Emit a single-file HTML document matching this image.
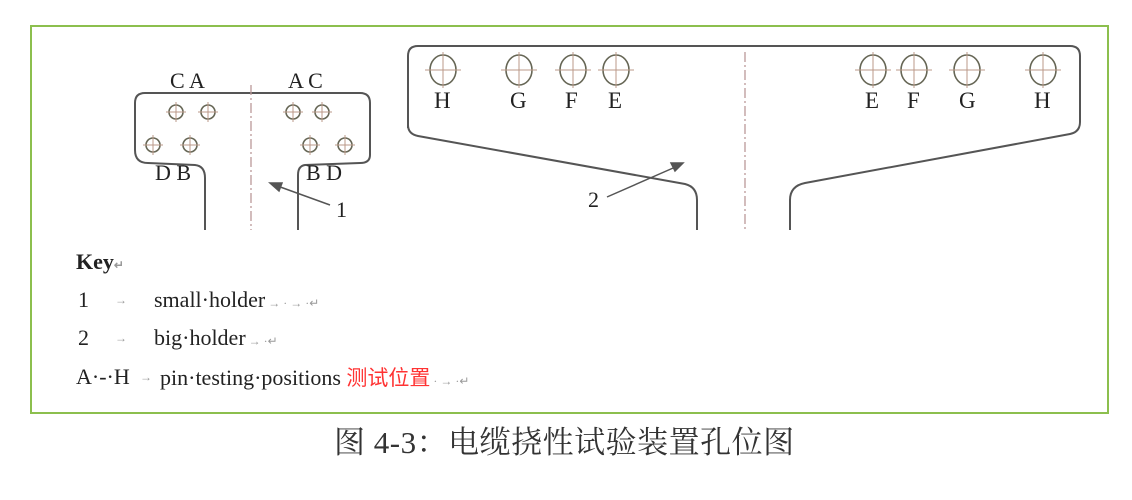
<!DOCTYPE html>
<html><head><meta charset="utf-8"><style>
body{margin:0;width:1132px;height:500px;background:#fff;overflow:hidden;position:relative;font-family:"Liberation Serif","Noto Serif CJK SC",serif}
.frame{position:absolute;left:30px;top:25px;width:1079px;height:389px;border:2px solid #8cbf4e;box-sizing:border-box}
.t{position:absolute;font-size:22px;color:#222;white-space:nowrap;line-height:26px}
.m{color:#999;font-size:12px}
</style></head><body>
<div class="frame"></div>
<svg width="1132" height="500" style="position:absolute;left:0;top:0">
<g fill="none" stroke="#555" stroke-width="2">
<path d="M135,150 L135,103 Q135,93 145,93 L360,93 Q370,93 370,103 L370,155 Q370,163 360,163 L305,165 Q298,166 298,175 L298,230"/>
<path d="M135,150 Q135,163 148,163 L195,165 Q205,166 205,178 L205,230"/>
<path d="M408,128 L408,56 Q408,46 418,46 L1070,46 Q1080,46 1080,56 L1080,122 Q1080,132 1070,134 L805,183 Q790,186 790,200 L790,230"/>
<path d="M408,125 Q408,134 418,136 L685,184 Q697,187 697,200 L697,230"/>
</g>
<g stroke="#b99" stroke-width="1.3" stroke-dasharray="10,3,2,3">
<line x1="251" y1="85" x2="251" y2="230"/><line x1="745" y1="52" x2="745" y2="230"/>
</g>
<g fill="none" stroke="#665" stroke-width="1.6">
<circle cx="176" cy="112" r="7"/><circle cx="208" cy="112" r="7"/><circle cx="293" cy="112" r="7"/><circle cx="322" cy="112" r="7"/>
<circle cx="153" cy="145" r="7"/><circle cx="190" cy="145" r="7"/><circle cx="310" cy="145" r="7"/><circle cx="345" cy="145" r="7"/>
<ellipse cx="443" cy="70" rx="13" ry="15"/><ellipse cx="519" cy="70" rx="13" ry="15"/><ellipse cx="573" cy="70" rx="13" ry="15"/><ellipse cx="616" cy="70" rx="13" ry="15"/>
<ellipse cx="873" cy="70" rx="13" ry="15"/><ellipse cx="914" cy="70" rx="13" ry="15"/><ellipse cx="967" cy="70" rx="13" ry="15"/><ellipse cx="1043" cy="70" rx="13" ry="15"/>
</g>
<g stroke="#b98" stroke-width="1">
<path d="M166,112h20M176,102v20M198,112h20M208,102v20M283,112h20M293,102v20M312,112h20M322,102v20"/>
<path d="M143,145h20M153,135v20M180,145h20M190,135v20M300,145h20M310,135v20M335,145h20M345,135v20"/>
<path d="M425,70h36M443,52v36M501,70h36M519,52v36M555,70h36M573,52v36M598,70h36M616,52v36"/>
<path d="M855,70h36M873,52v36M896,70h36M914,52v36M949,70h36M967,52v36M1025,70h36M1043,52v36"/>
</g>
<g stroke="#555" stroke-width="1.5" fill="#555">
<line x1="330" y1="205" x2="272" y2="184"/><path d="M270,183 l12,0 l-3,8z"/>
<line x1="607" y1="197" x2="680" y2="165"/><path d="M683,163 l-12,0 l4,8z"/>
</g>
<g font-family="Liberation Serif,serif" font-size="22" fill="#222">
<text x="170" y="88">C A</text><text x="288" y="88">A C</text>
<text x="155" y="180">D B</text><text x="306" y="180">B D</text>
<text x="336" y="217">1</text><text x="588" y="207">2</text>
<g font-size="23"><text x="434" y="108">H</text><text x="510" y="108">G</text><text x="565" y="108">F</text><text x="608" y="108">E</text>
<text x="865" y="108">E</text><text x="907" y="108">F</text><text x="959" y="108">G</text><text x="1034" y="108">H</text></g>
</g>
</svg>
<div class="t" style="left:76px;top:249px;font-weight:bold">Key<span class="m">↵</span></div>
<div class="t" style="left:78px;top:287px">1</div><div class="t m" style="left:115px;top:287px">→</div>
<div class="t" style="left:154px;top:287px">small·holder<span class="m"> → · → ·↵</span></div>
<div class="t" style="left:78px;top:325px">2</div><div class="t m" style="left:115px;top:325px">→</div>
<div class="t" style="left:154px;top:325px">big·holder<span class="m"> → ·↵</span></div>
<div class="t" style="left:76px;top:364px">A·-·H</div><div class="t m" style="left:140px;top:364px">→</div>
<div class="t" style="left:160px;top:364px">pin·testing·positions <span style="color:#f33;font-family:'Noto Sans CJK SC',sans-serif;font-size:21px">测试位置</span><span class="m"> · → ·↵</span></div>
<div class="t" style="left:334px;top:426px;font-size:31px;line-height:34px;letter-spacing:0.5px;color:#333;font-family:'Liberation Serif','Noto Serif CJK SC',serif">图 4-3：电缆挠性试验装置孔位图</div>
</body></html>
